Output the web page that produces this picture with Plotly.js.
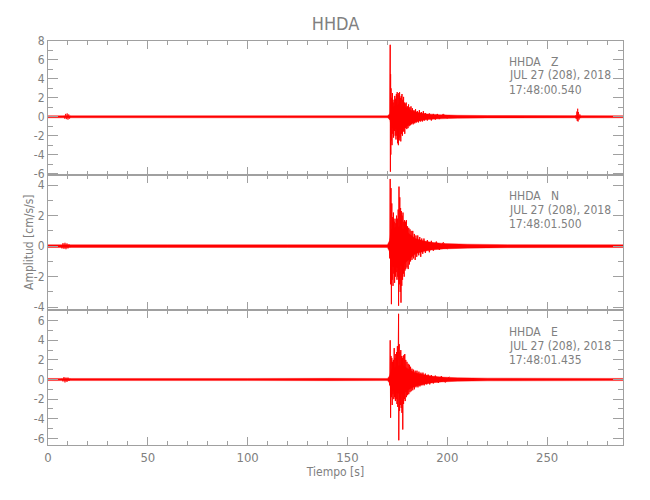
<!DOCTYPE html>
<html>
<head>
<meta charset="utf-8">
<script src="https://cdn.plot.ly/plotly-3.0.1.min.js"></script>
<style>html,body{margin:0;padding:0;background:#fff;}#chart{width:650px;height:500px;}</style>
</head>
<body>
<div id="chart"></div>
<script>
// ---------- data ----------
const stationTitle = "HHDA";
const xTitle = "Tiempo [s]";
const yTitle = "Amplitud [cm/s/s]";
const xTicks = [0, 50, 100, 150, 200, 250];

// panel labels (top, middle, bottom)
const compZ = ["HHDA\u00a0\u00a0\u00a0Z", "JUL 27 (208), 2018", "17:48:00.540"];
const compN = ["HHDA\u00a0\u00a0\u00a0N", "JUL 27 (208), 2018", "17:48:01.500"];
const compE = ["HHDA\u00a0\u00a0\u00a0E", "JUL 27 (208), 2018", "17:48:01.435"];

const yTicksZ = [-6, -4, -2, 0, 2, 4, 6, 8];
const yTicksN = [-4, -2, 0, 2, 4];
const yTicksE = [-6, -4, -2, 0, 2, 4, 6];

// ----- Z component: noise / coda envelope -----
const envTZ  = [0, 60, 120, 170, 171.2, 172, 174, 176, 179, 182, 186, 190, 196, 205, 220, 288];
const envUpZ = [0.11, 0.11, 0.11, 0.11, 0.3, 0.9, 1.2, 1.3, 1.0, 0.65, 0.42, 0.3, 0.22, 0.16, 0.13, 0.11];
const envLoZ = [-0.11, -0.11, -0.11, -0.11, -0.3, -1.1, -1.3, -1.4, -1.1, -0.7, -0.45, -0.3, -0.22, -0.16, -0.13, -0.11];
// ----- Z component: event oscillation -----
const evTZ = [171.0, 171.2, 171.4, 171.5, 171.6, 171.7, 171.8, 171.9, 172.1, 172.3, 172.5, 172.7, 172.9, 173.1, 173.3, 173.5, 173.7, 173.9, 174.1, 174.3, 174.5, 174.7, 174.9, 175.1, 175.3, 175.5, 175.7, 175.9, 176.1, 176.3, 176.5, 176.7, 176.9, 177.1, 177.3, 177.5, 177.7, 177.9, 178.1, 178.3, 178.5, 178.7, 178.9, 179.1, 179.4, 179.7, 180.0, 180.3, 180.6, 180.9, 181.2, 181.5, 181.8, 182.1, 182.5, 182.9, 183.3, 183.7, 184.1, 184.5, 185, 185.5, 186, 186.5, 187, 187.5, 188, 188.5, 189, 190, 191, 192, 193, 194, 195, 196, 198, 200];
const evVZ = [0.1, -0.3, 7.6, -5.8, 4.5, -4.0, 3.0, -2.5, 2.0, -3.0, 2.5, -1.8, 1.5, -2.2, 1.8, -1.5, 2.2, -2.0, 1.9, -2.4, 2.4, -2.0, 2.6, -2.8, 2.3, -3.0, 2.5, -2.5, 2.6, -2.2, 2.0, -2.6, 2.2, -1.8, 2.4, -2.0, 1.8, -1.5, 2.1, -1.6, 1.5, -1.8, 1.4, -1.2, 1.5, -1.3, 1.1, -1.2, 1.3, -1.0, 1.0, -0.9, 1.1, -0.8, 0.9, -0.8, 0.7, -0.7, 0.8, -0.6, 0.6, -0.6, 0.7, -0.5, 0.5, -0.5, 0.6, -0.4, 0.4, -0.4, 0.35, -0.4, 0.3, -0.3, 0.3, -0.25, 0.3, -0.2];
// small bursts
const b1TZ = [8.0, 8.4, 8.8, 9.2, 9.6, 10.0, 10.4, 10.8, 11.2];
const b1VZ = [0.1, -0.2, 0.3, -0.25, 0.35, -0.3, 0.25, -0.2, 0.1];
const b2TZ = [264.2, 264.6, 264.9, 265.1, 265.3, 265.5, 265.7, 266.0, 266.4, 266.8];
const b2VZ = [0.15, -0.25, 0.55, -0.45, 0.85, -0.5, 0.5, -0.3, 0.25, -0.15];

// ----- N component -----
const envTN  = [0, 60, 120, 170, 171, 172, 175, 178, 181, 184, 188, 192, 198, 210, 230, 288];
const envUpN = [0.09, 0.09, 0.09, 0.09, 0.35, 1.1, 1.3, 1.1, 0.8, 0.5, 0.35, 0.25, 0.18, 0.13, 0.1, 0.09];
const envLoN = [-0.09, -0.09, -0.09, -0.09, -0.35, -1.3, -1.4, -1.2, -0.85, -0.5, -0.35, -0.25, -0.18, -0.13, -0.1, -0.09];
const evTN = [171.0, 171.2, 171.4, 171.6, 171.8, 172.0, 172.2, 172.4, 172.6, 172.8, 173.0, 173.2, 173.4, 173.6, 173.8, 174.0, 174.2, 174.4, 174.6, 174.8, 175.0, 175.2, 175.4, 175.6, 175.8, 176.0, 176.2, 176.4, 176.6, 176.8, 177.0, 177.2, 177.4, 177.6, 177.8, 178.0, 178.2, 178.4, 178.6, 178.8, 179.0, 179.2, 179.5, 179.8, 180.1, 180.4, 180.7, 181.0, 181.3, 181.6, 181.9, 182.3, 182.7, 183.1, 183.5, 183.9, 184.3, 184.7, 185.2, 185.7, 186.2, 186.7, 187.2, 187.7, 188.3, 189, 190, 191, 192, 193, 194.5, 196, 198, 200];
const evVN = [0.1, -0.8, 4.4, -2.5, 3.8, -3.8, 2.8, -2.2, 1.9, -2.6, 2.2, -1.8, 1.6, -2.4, 1.8, -2.0, 1.5, -1.7, 2.0, -2.2, 1.8, -2.0, 2.4, -3.9, 3.9, -2.5, 3.2, -3.0, 2.5, -3.7, 2.3, -2.6, 2.0, -2.2, 2.2, -1.8, 1.6, -2.0, 1.7, -1.6, 1.6, -1.5, 1.7, -1.4, 1.3, -1.5, 1.2, -1.2, 1.1, -1.0, 1.0, -0.9, 1.0, -0.8, 0.8, -0.9, 0.7, -0.7, 0.7, -0.6, 0.6, -0.7, 0.5, -0.5, 0.5, -0.45, 0.4, -0.4, 0.35, -0.3, 0.3, -0.25, 0.25, -0.2];
const b1TN = [6.5, 7.0, 7.5, 8.0, 8.5, 9.0, 9.5, 10.0, 10.5, 11.0];
const b1VN = [0.08, -0.15, 0.2, -0.18, 0.22, -0.2, 0.18, -0.15, 0.12, -0.08];

// ----- E component -----
const envTE  = [0, 100, 140, 170, 171, 172, 175, 178, 181, 184, 188, 192, 197, 205, 220, 288];
const envUpE = [0.11, 0.11, 0.12, 0.11, 0.35, 1.0, 1.4, 1.4, 1.0, 0.7, 0.5, 0.35, 0.25, 0.18, 0.14, 0.11];
const envLoE = [-0.11, -0.11, -0.12, -0.11, -0.35, -1.1, -1.4, -1.4, -1.0, -0.7, -0.5, -0.35, -0.25, -0.18, -0.14, -0.11];
const evTE = [171.0, 171.2, 171.4, 171.6, 171.8, 172.0, 172.2, 172.4, 172.6, 172.8, 173.0, 173.2, 173.4, 173.6, 173.8, 174.0, 174.2, 174.4, 174.6, 174.8, 175.0, 175.2, 175.4, 175.6, 175.7, 175.9, 176.1, 176.3, 176.5, 176.7, 176.9, 177.1, 177.3, 177.5, 177.7, 177.9, 178.1, 178.3, 178.5, 178.7, 178.9, 179.2, 179.5, 179.8, 180.1, 180.4, 180.7, 181.0, 181.3, 181.6, 181.9, 182.3, 182.7, 183.1, 183.5, 183.9, 184.3, 184.8, 185.3, 185.8, 186.3, 186.8, 187.3, 187.8, 188.4, 189, 189.7, 190.4, 191.2, 192, 193, 194, 195.5, 197, 199, 201];
const evVE = [0.1, -0.6, 4.0, -3.9, 2.4, -1.8, 2.2, -2.6, 1.8, -1.5, 2.0, -2.0, 3.2, -1.8, 2.2, -2.2, 2.6, -2.0, 2.8, -2.5, 3.4, -2.8, 2.4, 6.7, -6.2, 3.6, -3.2, 2.8, -2.6, 3.0, -2.9, 2.4, -3.4, 2.2, -5.1, 2.4, -2.5, 2.5, -2.0, 2.6, -2.2, 2.0, -1.8, 1.8, -1.6, 1.6, -1.5, 1.5, -1.3, 1.3, -1.2, 1.1, -1.1, 1.0, -1.0, 0.9, -0.8, 0.9, -0.8, 0.8, -0.7, 0.7, -0.6, 0.7, -0.6, 0.6, -0.5, 0.5, -0.5, 0.45, -0.4, 0.4, -0.35, 0.35, -0.3, 0.28];
const b1TE = [7.0, 7.5, 8.0, 8.5, 9.0, 9.5, 10.0, 10.5, 11.0];
const b1VE = [0.1, -0.2, 0.25, -0.3, 0.2, -0.25, 0.2, -0.15, 0.1];

// ---------- styling ----------
const RED = "#ff0000";
const AX = "#a0a0a0";
const TXT = "#808080";
const FONT = "'Liberation Sans Narrow', 'Arial Narrow', 'DejaVu Sans Condensed', sans-serif";

function band(t, up, lo, xa, ya) {
  return [
    {x: t, y: up, xaxis: xa, yaxis: ya, type: "scatter", mode: "lines",
     line: {width: 0.4, color: RED, simplify: false}, hoverinfo: "skip", showlegend: false},
    {x: t, y: lo, xaxis: xa, yaxis: ya, type: "scatter", mode: "lines", fill: "tonexty",
     fillcolor: RED, line: {width: 0.4, color: RED, simplify: false}, hoverinfo: "skip", showlegend: false}
  ];
}
function wave(t, v, xa, ya, w) {
  return {x: t, y: v, xaxis: xa, yaxis: ya, type: "scatter", mode: "lines",
          line: {width: w || 1, color: RED, simplify: false}, hoverinfo: "skip", showlegend: false};
}

const data = [].concat(
  band(envTZ, envUpZ, envLoZ, "x3", "y3"),
  [wave(evTZ, evVZ, "x3", "y3"), wave(b1TZ, b1VZ, "x3", "y3", 0.8), wave(b2TZ, b2VZ, "x3", "y3", 0.8)],
  band(envTN, envUpN, envLoN, "x2", "y2"),
  [wave(evTN, evVN, "x2", "y2"), wave(b1TN, b1VN, "x2", "y2", 0.8)],
  band(envTE, envUpE, envLoE, "x", "y"),
  [wave(evTE, evVE, "x", "y"), wave(b1TE, b1VE, "x", "y", 0.8)]
);

function xAxis(anchor, labels) {
  return {
    anchor: anchor, domain: [0, 1], range: [0, 288],
    tickmode: "array", tickvals: xTicks, ticktext: xTicks.map(String),
    showticklabels: labels, ticks: "inside", ticklen: 8, tickwidth: 1, tickcolor: AX,
    minor: {dtick: 10, tick0: 0, ticks: "inside", ticklen: 4, tickcolor: AX, tickwidth: 1},
    showline: true, linecolor: AX, linewidth: 1, mirror: "allticks",
    showgrid: false, zeroline: false,
    tickfont: {family: FONT, size: 13, color: TXT}
  };
}
function yAxis(anchor, dom, rng, ticks) {
  return {
    anchor: anchor, domain: dom, range: rng,
    tickmode: "array", tickvals: ticks, ticktext: ticks.map(String),
    ticks: "inside", ticklen: 10, tickwidth: 1, tickcolor: AX,
    minor: {dtick: 1, tick0: 0, ticks: "inside", ticklen: 5, tickcolor: AX, tickwidth: 1},
    showline: true, linecolor: AX, linewidth: 1, mirror: "allticks",
    showgrid: false, zeroline: false,
    tickfont: {family: FONT, size: 12, color: TXT}
  };
}

const xa1 = xAxis("y", true);
xa1.title = {text: xTitle, font: {family: FONT, size: 12, color: TXT}, standoff: 4};

function labelAnn(lines, yPix) {
  return lines.map((s, i) => ({
    text: s, xref: "paper", yref: "paper",
    x: (508 - 48) / 575, xanchor: "left",
    y: (445 - yPix[i]) / 404, yanchor: "middle",
    showarrow: false, align: "left", borderpad: 0,
    font: {family: FONT, size: 12, color: TXT}
  }));
}

const layout = {
  width: 650, height: 500,
  margin: {l: 48, r: 27, t: 41, b: 55},
  paper_bgcolor: "#ffffff", plot_bgcolor: "#ffffff",
  showlegend: false,
  title: {text: stationTitle, x: 0.5, xref: "paper", y: 1 - 23.5 / 500, yref: "container",
          yanchor: "middle", font: {family: FONT, size: 18, color: TXT}},
  xaxis: xa1,
  xaxis2: xAxis("y2", false),
  xaxis3: xAxis("y3", false),
  yaxis: yAxis("x", [0, 0.3342], [-6.68, 7.09], yTicksE),
  yaxis2: yAxis("x2", [0.3342, 0.6683], [-4.18, 4.66], yTicksN),
  yaxis3: yAxis("x3", [0.6683, 1], [-6.15, 8.0], yTicksZ),
  annotations: [].concat(
    labelAnn(compZ, [61.5, 75.5, 89.5]),
    labelAnn(compN, [196, 210, 224.5]),
    labelAnn(compE, [331.5, 345.5, 360]),
    [{text: yTitle, xref: "paper", yref: "paper", x: (29 - 48) / 575, xanchor: "center",
      y: (445 - 242) / 404, yanchor: "middle", textangle: -90, showarrow: false,
      font: {family: FONT, size: 12, color: TXT}}]
  )
};

Plotly.newPlot("chart", data, layout, {staticPlot: true, displayModeBar: false});
</script>
</body>
</html>
